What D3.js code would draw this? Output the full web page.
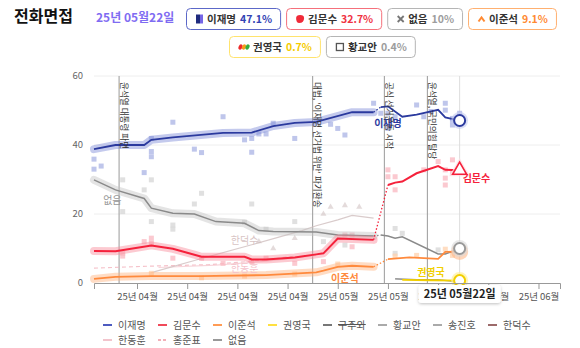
<!DOCTYPE html>
<html><head><meta charset="utf-8">
<script src="https://cdn.jsdelivr.net/npm/d3@7"></script>
<style>
body{margin:0;background:#fff;font-family:"Noto Sans CJK KR","Noto Sans",sans-serif;}
svg{display:block}
</style></head><body>
<svg id="c" width="580" height="348"></svg>
<script>
// ---------------- DATA ----------------
const TITLE = "전화면접";
const CURRENT_DATE = "2025-05-22";
const CURRENT_LABEL = "25년 05월22일";
const Y_TICKS = [0, 20, 40, 60];

const LEE_A = [["2025-04-01",38.8],["2025-04-04",40.0],["2025-04-08",40.0],["2025-04-09",41.5],["2025-04-12",42.2],["2025-04-19",43.5],["2025-04-23",43.6],["2025-04-26",45.5],["2025-04-29",46.4],["2025-05-02",46.7],["2025-05-07",49.5],["2025-05-10",49.5]];
const LEE_B = [["2025-05-11",51.0],["2025-05-12",51.2],["2025-05-14",48.2],["2025-05-16",48.8],["2025-05-19",50.2],["2025-05-20",48.0],["2025-05-22",47.1]];
const LEE_DOTS = [["2025-04-01",35.9],["2025-04-01",33.0],["2025-04-02",33.9],["2025-04-08",32.0],["2025-04-09",41.9],["2025-04-09",38.1],["2025-04-09",36.6],["2025-04-12",46.6],["2025-04-15",38.8],["2025-04-16",37.8],["2025-04-19",48.2],["2025-04-22",41.5],["2025-04-23",41.9],["2025-04-23",37.9],["2025-04-24",43.2],["2025-04-25",43.2],["2025-04-26",46.3],["2025-04-29",41.9],["2025-05-02",46.8],["2025-05-04",46.0],["2025-05-05",44.8],["2025-05-06",42.9],["2025-05-10",52.1],["2025-05-11",49.2],["2025-05-12",49.2],["2025-05-12",44.8],["2025-05-13",48.2],["2025-05-16",51.6],["2025-05-17",48.2],["2025-05-18",49.7],["2025-05-20",52.1],["2025-05-20",50.1],["2025-05-21",47.7],["2025-05-21",45.8],["2025-05-21",47.2],["2025-05-22",49.2]];

const KIM_A = [["2025-04-01",9.3],["2025-04-04",9.2],["2025-04-09",10.9],["2025-04-12",9.9],["2025-04-15",8.2],["2025-04-16",7.6],["2025-04-22",7.6],["2025-04-23",6.8],["2025-04-25",6.8],["2025-04-29",7.4],["2025-05-02",8.3],["2025-05-03",8.6],["2025-05-05",12.9],["2025-05-10",12.5]];
const KIM_B = [["2025-05-12",28.4],["2025-05-13",29.1],["2025-05-14",29.4],["2025-05-16",31.8],["2025-05-19",33.9],["2025-05-20",32.8],["2025-05-22",32.7]];
const KIM_DOTS = [["2025-04-05",8.6],["2025-04-05",7.8],["2025-04-08",12.0],["2025-04-09",13.0],["2025-04-09",11.6],["2025-04-12",7.2],["2025-04-16",7.2],["2025-04-19",5.7],["2025-04-23",6.2],["2025-04-25",7.2],["2025-04-29",5.7],["2025-05-03",6.2],["2025-05-06",13.9],["2025-05-07",13.9],["2025-05-07",10.5],["2025-05-12",32.8],["2025-05-12",30.8],["2025-05-13",30.8],["2025-05-13",27.0],["2025-05-17",32.8],["2025-05-19",35.2],["2025-05-20",32.8],["2025-05-20",30.4],["2025-05-20",28.4],["2025-05-21",35.7],["2025-05-21",31.8]];

const NONE_A = [["2025-04-01",29.9],["2025-04-04",27.0],["2025-04-08",24.5],["2025-04-09",21.7],["2025-04-12",20.2],["2025-04-15",20.0],["2025-04-18",17.8],["2025-04-22",17.3],["2025-04-24",15.2],["2025-04-26",14.9],["2025-05-02",14.8],["2025-05-05",13.9],["2025-05-10",13.6]];
const NONE_B = [["2025-05-11",13.9],["2025-05-12",13.6],["2025-05-13",13.0],["2025-05-14",13.4],["2025-05-19",8.4],["2025-05-20",8.4],["2025-05-22",10.0]];
const NONE_DOTS = [["2025-04-05",29.9],["2025-04-05",20.7],["2025-04-08",27.0],["2025-04-09",29.9],["2025-04-09",17.8],["2025-04-12",16.8],["2025-04-12",15.6],["2025-04-15",22.9],["2025-04-16",26.0],["2025-04-22",17.6],["2025-04-23",22.9],["2025-04-25",15.6],["2025-04-29",17.8],["2025-05-03",12.0],["2025-05-06",11.0],["2025-05-13",15.8],["2025-05-13",8.6],["2025-05-14",14.4],["2025-05-19",9.6]];

const JUN_A = [["2025-04-01",1.2],["2025-04-04",1.8],["2025-04-09",2.0],["2025-04-16",2.0],["2025-04-25",2.3],["2025-05-02",3.1],["2025-05-03",3.6],["2025-05-05",4.7],["2025-05-07",5.0],["2025-05-10",4.7]];
const JUN_B = [["2025-05-12",6.9],["2025-05-15",7.4],["2025-05-19",7.0],["2025-05-20",9.0],["2025-05-22",9.1]];
const JUN_DOTS = [["2025-04-09",2.8],["2025-04-16",1.5],["2025-04-22",2.0],["2025-04-29",2.6],["2025-05-05",5.5],["2025-05-13",7.8],["2025-05-16",8.0],["2025-05-20",9.8],["2025-05-21",8.0]];

const KWON_B = [["2025-05-14",0.9],["2025-05-18",0.8],["2025-05-22",0.7]];
const HWANG_B = [["2025-05-13",1.2],["2025-05-16",1.0],["2025-05-19",0.9],["2025-05-22",0.4]];

const HDS_LINE = [["2025-04-09",3.0],["2025-04-16",7.1],["2025-04-23",11.1],["2025-04-30",15.2],["2025-05-02",16.6],["2025-05-05",18.3],["2025-05-07",19.6],["2025-05-10",18.8]];
const HDS_DOTS = [["2025-04-24",12.0],["2025-04-26",10.0],["2025-04-29",13.0],["2025-05-03",20.0],["2025-05-04",22.0],["2025-05-06",22.5],["2025-05-08",22.0]];
const HDH_LINE = [["2025-04-10",4.5],["2025-04-18",5.2],["2025-04-25",6.3],["2025-05-02",8.0]];
const HONG_LINE = [["2025-04-01",4.3],["2025-04-09",4.9],["2025-04-17",5.3],["2025-04-24",6.5],["2025-04-29",7.8]];

const EVENT_DATES = ["2025-04-04","2025-05-01","2025-05-11","2025-05-17"];
const EVENT_TEXTS = ["윤석열 대통령 파면","대법, '이재명 선거법 위반' 파기환송","공식 선거운동 시작","윤석열, 국민의힘 탈당"];

const BADGE_NAMES = ["이재명","김문수","없음","이준석","권영국","황교안"];
const BADGE_VALUES = ["47.1%","32.7%","10%","9.1%","0.7%","0.4%"];

const LEGEND_NAMES = ["이재명","김문수","이준석","권영국","구주와","황교안","송진호","한덕수","한동훈","홍준표","없음"];

// ---------------- SETUP ----------------
const P = d3.timeParse("%Y-%m-%d");
const rows = a => a.map(d => ({date: P(d[0]), v: d[1]}));
const svg = d3.select("#c");
const x = d3.scaleTime().domain([P("2025-04-01"), P("2025-06-05")]).range([94, 560]);
const y = d3.scaleLinear().domain([0, 60]).range([283, 76]);
const line = d3.line().x(d => x(d.date)).y(d => y(d.v));

const defs = svg.append("defs");
const grad = defs.append("linearGradient").attr("id","leeg").attr("x1","0").attr("x2","1");
grad.append("stop").attr("offset","0.5").attr("stop-color","#1f2b7e");
grad.append("stop").attr("offset","0.5").attr("stop-color","#7566e6");
const sh = defs.append("filter").attr("id","sh").attr("x","-20%").attr("y","-40%").attr("width","140%").attr("height","180%");
sh.append("feDropShadow").attr("dx",0).attr("dy",1).attr("stdDeviation",1.5).attr("flood-color","#000").attr("flood-opacity",0.25);

// grid
const plot = svg.append("g");
plot.selectAll("line.grid").data(Y_TICKS.filter(v => v > 0)).join("line")
  .attr("x1", x.range()[0]).attr("x2", x.range()[1])
  .attr("y1", d => y(d)).attr("y2", d => y(d))
  .attr("stroke", "#eeeeee");
svg.append("g").selectAll("text").data(Y_TICKS).join("text")
  .attr("x", 83).attr("y", d => y(d)).attr("dy","0.35em")
  .attr("text-anchor","end").attr("font-size", 9.5).attr("fill","#666").text(d => d);

// event lines
const evDate = d => d3.timeHour.offset(P(d), 12);
plot.selectAll("line.ev").data(EVENT_DATES).join("line")
  .attr("x1", d => x(evDate(d))).attr("x2", d => x(evDate(d)))
  .attr("y1", y(60)).attr("y2", y(0)).attr("stroke","#9a9a9a").attr("stroke-width",1);
plot.append("line").attr("x1", x(P(CURRENT_DATE))).attr("x2", x(P(CURRENT_DATE)))
  .attr("y1", y(60)).attr("y2", y(0)).attr("stroke","#dddddd");

// series config
const series = [
  {a: NONE_A, b: NONE_B, dots: NONE_DOTS, c: "#8a8a8a", band: "#c4c4c4", dot: "#d6d6d6", w: 1.5},
  {a: JUN_A, b: JUN_B, dots: JUN_DOTS, c: "#ff8a3d", band: "#ffb27c", dot: "#ffd2ad", w: 1.8},
  {a: KIM_A, b: KIM_B, dots: KIM_DOTS, c: "#f5213b", band: "#f98a99", dot: "#f9b7c0", w: 2},
  {a: LEE_A, b: LEE_B, dots: LEE_DOTS, c: "#2b3a9e", band: "#7c89d6", dot: "#aab3e4", w: 1.8},
];

// faint secondary lines
plot.append("path").attr("d", line(rows(HONG_LINE))).attr("fill","none")
  .attr("stroke","#f3b3bd").attr("stroke-width",1.2).attr("stroke-dasharray","4,3").attr("opacity",0.8);
plot.append("path").attr("d", line(rows(HDH_LINE))).attr("fill","none")
  .attr("stroke","#f5c9d0").attr("stroke-width",1.2).attr("opacity",0.8);
plot.append("path").attr("d", line(rows(HDS_LINE))).attr("fill","none")
  .attr("stroke","#d2c2c2").attr("stroke-width",1.2).attr("opacity",0.85);
plot.selectAll("path.tri").data(rows(HDS_DOTS)).join("path")
  .attr("transform", d => `translate(${x(d.date)},${y(d.v)})`)
  .attr("d", d3.symbol(d3.symbolTriangle, 16)).attr("fill","#c9b8b8").attr("opacity",0.5);

// scatter dots
series.forEach(s => {
  plot.append("g").selectAll("rect").data(rows(s.dots)).join("rect")
    .attr("x", d => x(d.date) - 2.5).attr("y", d => y(d.v) - 2.5)
    .attr("width", 5).attr("height", 5).attr("fill", s.dot).attr("opacity", 0.75);
});
// bands + lines
series.forEach(s => {
  const A = rows(s.a), B = rows(s.b);
  plot.append("path").attr("d", line(A)).attr("fill","none").attr("stroke", s.band)
    .attr("stroke-width", 8).attr("stroke-linejoin","round").attr("stroke-linecap","round").attr("opacity", 0.45);
  plot.append("path").attr("d", line(A)).attr("fill","none").attr("stroke", s.c).attr("stroke-width", s.w);
  plot.append("path").attr("d", line([A[A.length-1], B[0]])).attr("fill","none").attr("stroke", s.c)
    .attr("stroke-width", 1.3).attr("stroke-dasharray","1.5,2");
  plot.append("path").attr("d", line(B)).attr("fill","none").attr("stroke", s.c).attr("stroke-width", s.w);
});
plot.append("path").attr("d", line(rows(HWANG_B))).attr("fill","none").attr("stroke","#777").attr("stroke-width",1.2);
plot.append("path").attr("d", line(rows(KWON_B))).attr("fill","none").attr("stroke","#f2cf00").attr("stroke-width",1.8);

// end markers
const last = a => { const r = rows(a); return r[r.length-1]; };
const endG = svg.append("g");
const eJ = last(JUN_B), eN = last(NONE_B), eL = last(LEE_B), eK = last(KIM_B), eW = last(KWON_B);
endG.append("circle").attr("cx", x(eJ.date)).attr("cy", y(eJ.v)).attr("r", 8.5).attr("fill","#ffb98a").attr("opacity",0.6);
endG.append("circle").attr("cx", x(eN.date)).attr("cy", y(eN.v)).attr("r", 8.5).attr("fill","#d9d9d9").attr("opacity",0.6);
endG.append("circle").attr("cx", x(eN.date)).attr("cy", y(eN.v)).attr("r", 5.5).attr("fill","#fff").attr("stroke","#999").attr("stroke-width",2);
endG.append("circle").attr("cx", x(eW.date)).attr("cy", y(eW.v)).attr("r", 8.5).attr("fill","#fff09a").attr("opacity",0.7);
endG.append("circle").attr("cx", x(eW.date)).attr("cy", y(eW.v)).attr("r", 5.5).attr("fill","#fff").attr("stroke","#f2cf00").attr("stroke-width",2);
endG.append("circle").attr("cx", x(eL.date)).attr("cy", y(eL.v)).attr("r", 8.5).attr("fill","#c3caf0").attr("opacity",0.6);
endG.append("circle").attr("cx", x(eL.date)).attr("cy", y(eL.v)).attr("r", 5.5).attr("fill","#fff").attr("stroke","#2b3a9e").attr("stroke-width",2);
endG.append("path").attr("transform", `translate(${x(eK.date)},${y(eK.v)})`)
  .attr("d", d3.symbol(d3.symbolTriangle, 190)).attr("fill","#fde0e4").attr("opacity",0.8);
endG.append("path").attr("transform", `translate(${x(eK.date)},${y(eK.v)})`)
  .attr("d", d3.symbol(d3.symbolTriangle, 85)).attr("fill","#fff").attr("stroke","#f5213b").attr("stroke-width",1.6);

// series labels
const LAB = [
  {t:"이재명", d:"2025-05-12", v:45.2, c:"#2b3a9e", w:"bold", a:"middle"},
  {t:"김문수", d:"2025-05-22", v:29.3, c:"#f5213b", w:"bold", a:"start", dx:3},
  {t:"없음", d:"2025-04-02", v:22.9, c:"#999", w:"normal", a:"start", dx:2},
  {t:"이준석", d:"2025-05-06", v:0.3, c:"#ff8a3d", w:"bold", a:"middle"},
  {t:"권영국", d:"2025-05-18", v:2.0, c:"#f2cf00", w:"bold", a:"middle"},
  {t:"한덕수", d:"2025-04-22", v:11.3, c:"#d8c4c4", w:"normal", a:"middle"},
  {t:"한동훈", d:"2025-04-22", v:3.2, c:"#f5c3cb", w:"normal", a:"middle"},
];
svg.append("g").selectAll("text").data(LAB).join("text")
  .attr("x", d => x(P(d.d)) + (d.dx || 0)).attr("y", d => y(d.v))
  .attr("text-anchor", d => d.a).attr("font-size", 10).attr("font-weight", d => d.w)
  .attr("fill", d => d.c).text(d => d.t);

// event texts
svg.append("g").selectAll("text").data(EVENT_DATES).join("text")
  .attr("transform", d => `translate(${x(evDate(d)) + 1.5},82) rotate(90)`)
  .attr("font-size", 8.6).attr("fill","#333").text((d,i) => EVENT_TEXTS[i]);

// x axis
const xAxis = d3.axisBottom(x)
  .tickValues(d3.timeMonday.range(x.domain()[0], x.domain()[1]))
  .tickFormat(d3.timeFormat("%y년 %m월")).tickSizeOuter(0).tickSize(6).tickPadding(4);
const ax = svg.append("g").attr("transform", `translate(0,${y(0)})`).call(xAxis);
ax.select(".domain").attr("stroke","#999");
ax.selectAll(".tick line").attr("stroke","#999");
ax.selectAll(".tick text").attr("font-size", 9.5).attr("fill","#555").attr("font-family","Noto Sans CJK KR");

// tooltip
const tx = x(P(CURRENT_DATE));
const tt = svg.append("g").attr("transform", `translate(${tx},285)`);
tt.append("rect").attr("x",-41).attr("y",0).attr("width",82).attr("height",18).attr("rx",3)
  .attr("fill","#fff").attr("filter","url(#sh)");
tt.append("text").attr("x",0).attr("y",13).attr("text-anchor","middle").attr("font-size",11)
  .attr("font-weight","bold").attr("fill","#222").text(CURRENT_LABEL);

// header
svg.append("text").attr("x",14).attr("y",22).attr("font-size",16).attr("font-weight","bold").attr("fill","#111").text(TITLE);
svg.append("text").attr("x",96).attr("y",22).attr("font-size",12).attr("font-weight","bold").attr("fill","#7f6cf2").text(CURRENT_LABEL);

// badges
const badgeStyle = [
  {border:"#5c68c8", val:"#3343b4", icon:"lee"},
  {border:"#f5707b", val:"#f03342", icon:"kim"},
  {border:"#b5b5b5", val:"#9d9d9d", icon:"x"},
  {border:"#ffb070", val:"#ff8a33", icon:"caret"},
  {border:"#ffe36e", val:"#f5cc00", icon:"dots"},
  {border:"#b5b5b5", val:"#9d9d9d", icon:"square"},
];
const badgeRows = [{x:186, y:8, items:[0,1,2,3]}, {x:229, y:36, items:[4,5]}];
badgeRows.forEach(r => {
  let cx = r.x;
  r.items.forEach(i => {
    const st = badgeStyle[i];
    const g = svg.append("g").attr("transform", `translate(${cx},${r.y})`);
    const rect = g.append("rect").attr("x",0.5).attr("y",0.5).attr("height",21).attr("rx",4)
      .attr("fill","#fff").attr("stroke", st.border);
    const cy = 11;
    const ic = g.append("g").attr("transform", `translate(10,${cy})`);
    let iw = 8;
    if (st.icon === "lee") { ic.append("rect").attr("x",0).attr("y",-4.5).attr("width",7).attr("height",9).attr("fill","url(#leeg)"); iw = 7; }
    if (st.icon === "kim") { ic.append("path").attr("d","M0,-1 Q0,-4 4,-4 Q8,-4 8,-1 Q8,4 3,4 Q0,4 0,-1Z").attr("fill","#f02a38"); iw = 8; }
    if (st.icon === "x") { ic.append("path").attr("d","M0.5,-3 L6.5,3 M6.5,-3 L0.5,3").attr("stroke","#777").attr("stroke-width",1.8); iw = 7; }
    if (st.icon === "caret") { ic.append("path").attr("d","M0.5,2.5 L3.5,-1.5 L6.5,2.5").attr("fill","none").attr("stroke","#ff8a33").attr("stroke-width",2); iw = 7; }
    if (st.icon === "dots") {
      [["#ee2a2a",1.5],["#f59e1b",5],["#35ad3c",8.5]].forEach(p => ic.append("ellipse").attr("cx",p[1]).attr("cy",0).attr("rx",1.9).attr("ry",2.8).attr("transform",`rotate(25,${p[1]},0)`).attr("fill",p[0]));
      iw = 10;
    }
    if (st.icon === "square") { ic.append("rect").attr("x",0.5).attr("y",-3.5).attr("width",7).attr("height",7).attr("fill","none").attr("stroke","#555").attr("stroke-width",1.3); iw = 8; }
    const nt = g.append("text").attr("x", 10 + iw + 4).attr("y", cy).attr("dy","0.36em")
      .attr("font-size",10.5).attr("font-weight","bold").attr("fill","#333").text(BADGE_NAMES[i]);
    const nw = nt.node().getComputedTextLength();
    const vt = g.append("text").attr("x", 10 + iw + 4 + nw + 4).attr("y", cy).attr("dy","0.36em")
      .attr("font-size",10.5).attr("font-weight","bold").attr("fill", st.val).text(BADGE_VALUES[i]);
    const vw = vt.node().getComputedTextLength();
    const w = 10 + iw + 4 + nw + 4 + vw + 8;
    rect.attr("width", w);
    cx += w + 6;
  });
});

// bottom legend
const legendColors = ["#4d5bc0","#f04a5a","#ff9c55","#ffe040","#777","#aaa","#aaa","#9c6a6a","#f2c4cc","#f2b0b8","#999"];
const lg = svg.append("g");
LEGEND_NAMES.forEach((n, i) => {
  const row = i < 8 ? 0 : 1, col = i < 8 ? i : i - 8;
  const gx = 103 + col * 55, gy = row === 0 ? 325 : 340;
  lg.append("line").attr("x1", gx).attr("x2", gx + 9).attr("y1", gy).attr("y2", gy)
    .attr("stroke", legendColors[i]).attr("stroke-width", 2)
    .attr("stroke-dasharray", n === "홍준표" ? "3,2" : null);
  lg.append("text").attr("x", gx + 15).attr("y", gy).attr("dy","0.35em").attr("font-size",10)
    .attr("fill","#555").attr("text-decoration", n === "구주와" ? "line-through" : null).text(n);
});
</script>
</body></html>
